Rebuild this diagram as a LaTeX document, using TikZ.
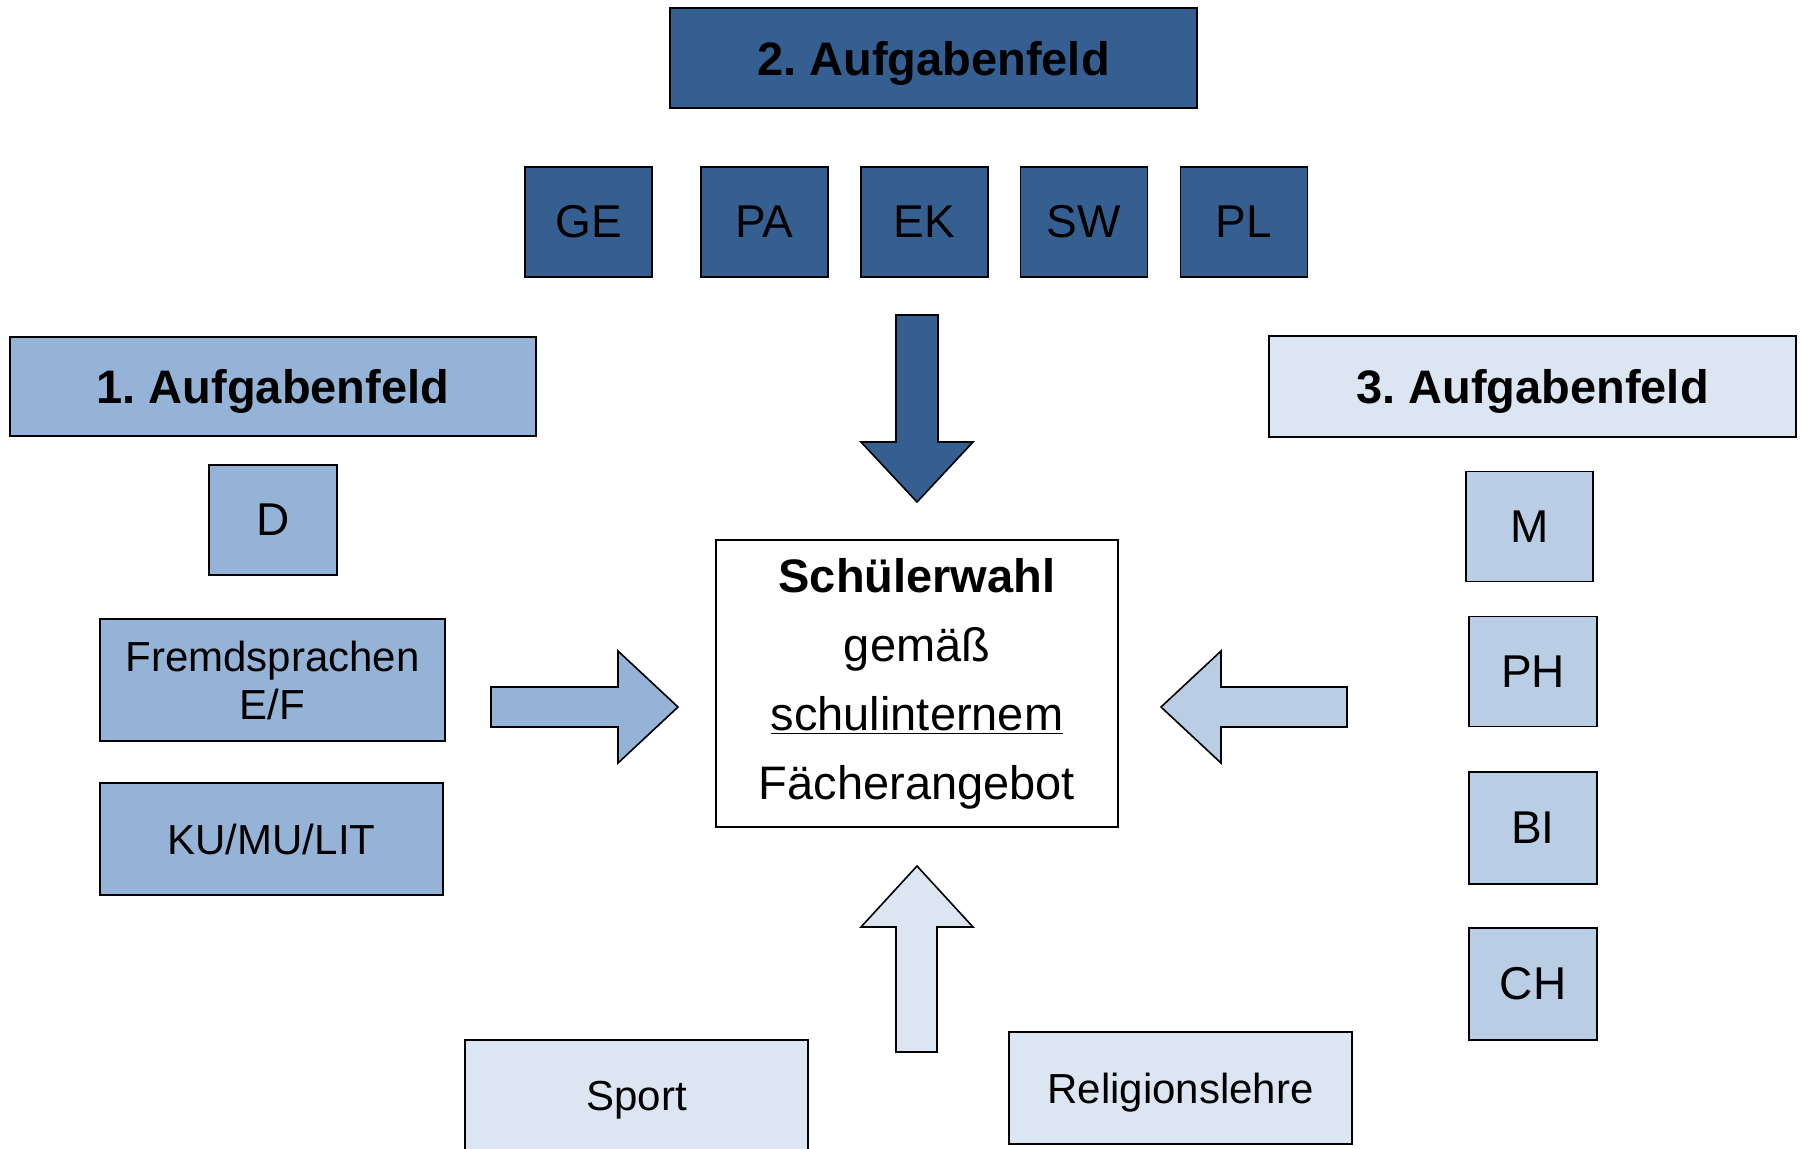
\documentclass[tikz,border=0pt]{standalone}
\usepackage{fontspec}
\setmainfont{Liberation Sans}
\frenchspacing
\definecolor{feldDark}{RGB}{54,95,145}
\definecolor{feldMid}{RGB}{149,179,215}
\definecolor{feldLight}{RGB}{185,205,229}
\definecolor{feldPale}{RGB}{220,230,242}
\tikzset{
	fach/.style={draw, line width=0.8pt, inner sep=0pt, align=center,
		minimum width=63.5pt, minimum height=55pt, font=\fontsize{23}{28}\selectfont},
	feld/.style={draw, line width=0.8pt, inner sep=0pt, align=center, text depth=0pt,
		minimum width=263.5pt, minimum height=50pt, font=\fontsize{23.5}{28}\selectfont\bfseries},
	breit/.style={draw, line width=0.8pt, inner sep=0pt, align=center,
		minimum width=171.5pt, minimum height=56pt, font=\fontsize{21}{24}\selectfont},
	pfeil/.style={draw, line width=0.8pt, line join=miter}
}
\begin{document}
\begin{tikzpicture}[x=0.5pt, y=-0.5pt]
	\useasboundingbox (0,0) rectangle (1804,1148);
	% 2. Aufgabenfeld
	\node[feld, fill=feldDark] (feldB) at (933.5,58) {2. Aufgabenfeld};
	\node[fach, fill=feldDark] (ge) at (588.5,222) {GE};
	\node[fach, fill=feldDark] (pa) at (764.5,222) {PA};
	\node[fach, fill=feldDark] (ek) at (924.5,222) {EK};
	\node[fach, fill=feldDark] (sw) at (1084,222) {SW};
	\node[fach, fill=feldDark] (pl) at (1244,222) {PL};
	
	% 1. Aufgabenfeld
	\node[feld, fill=feldMid, minimum width=263pt, minimum height=49.5pt] (feldA) at (273,386.5) {1. Aufgabenfeld};
	\node[fach, fill=feldMid, minimum width=64pt] (d) at (273,520) {D};
	\node[breit, fill=feldMid, minimum width=172.5pt, minimum height=61pt] (fremd) at (272.5,680) {Fremdsprachen\\E/F};
	\node[breit, fill=feldMid] (kunst) at (271.5,839) {KU/MU/LIT};
	
	% 3. Aufgabenfeld
	\node[feld, fill=feldPale, minimum height=50.5pt] (feldC) at (1532.5,386.5) {3. Aufgabenfeld};
	\node[fach, fill=feldLight] (m) at (1529.5,526.5) {M};
	\node[fach, fill=feldLight, minimum width=64pt] (ph) at (1533,671.5) {PH};
	\node[fach, fill=feldLight, minimum width=64pt, minimum height=56pt] (bi) at (1533,828) {BI};
	\node[fach, fill=feldLight, minimum width=64pt, minimum height=56pt] (ch) at (1533,984) {CH};
	
	% Sport und Religion
	\node[breit, fill=feldPale, text depth=0pt] (sport) at (636.5,1096) {Sport};
	\node[breit, fill=feldPale, text depth=0pt] (reli) at (1180.5,1088) {Religionslehre};
	
	% Schuelerwahl
	\node[draw, line width=0.8pt, fill=white, align=center, inner sep=0pt,
		minimum width=201pt, minimum height=143.5pt, font=\fontsize{23.5}{34.5}\selectfont]
		(wahl) at (917,683.5) {\textbf{Schülerwahl}\\gemäß\\\underline{schulinternem}\\Fächerangebot};
	
	% Pfeile
	\draw[pfeil, fill=feldDark] (896,315) -- (938,315) -- (938,442) -- (973,442) -- (917,502) -- (861,442) -- (896,442) -- cycle;
	\draw[pfeil, fill=feldMid] (491,687) -- (618,687) -- (618,651) -- (678,707) -- (618,763) -- (618,727) -- (491,727) -- cycle;
	\draw[pfeil, fill=feldLight] (1347,687) -- (1221,687) -- (1221,651) -- (1161,707) -- (1221,763) -- (1221,727) -- (1347,727) -- cycle;
	\draw[pfeil, fill=feldPale] (896,1052) -- (896,927) -- (861,927) -- (917,866) -- (973,927) -- (937,927) -- (937,1052) -- cycle;
\end{tikzpicture}
\end{document}
